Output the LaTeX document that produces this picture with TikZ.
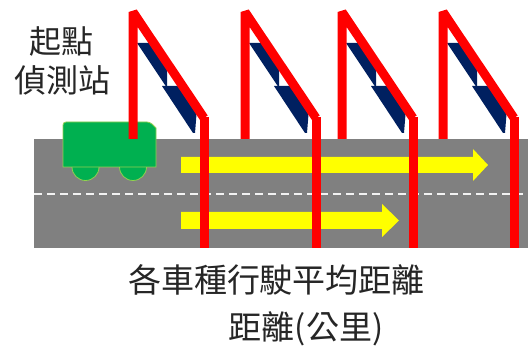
\documentclass[tikz,border=0pt]{standalone}
\usepackage{fontspec}
\newfontfamily\cjk{Noto Sans CJK TC}
\definecolor{roadgray}{RGB}{128,128,128}
\definecolor{vehgreen}{RGB}{0,176,80}
\definecolor{vehedge}{RGB}{146,208,80}
\definecolor{navy}{RGB}{0,32,96}
\definecolor{signyellow}{RGB}{255,255,0}
\definecolor{txt}{RGB}{38,38,38}
\tikzset{
  road/.style={fill=roadgray, draw=none},
  lane/.style={draw=white!90!gray, line width=1.3pt, dash pattern=on 8pt off 5pt},
  flow/.style={fill=signyellow, draw=none},
  vehicle/.style={fill=vehgreen, draw=vehedge, line width=0.8pt},
  panel/.style={fill=navy, draw=none},
  gantry/.style={draw=red, line width=9pt, line join=bevel},
  caption/.style={text=txt, inner sep=0pt, font=\cjk\fontsize{33}{33}\selectfont},
  sidelabel/.style={text=txt, inner sep=0pt, font=\cjk\fontsize{32}{32}\selectfont}
}
\begin{document}
\begin{tikzpicture}[x=1pt,y=-1pt]
\useasboundingbox (0,0) rectangle (528,347);
\fill[white] (0,0) rectangle (528,347);

% road surface and lane divider
\path[road] (34,139) rectangle (528,248);
\draw[lane] (34,194) -- (528,194);

% travel arrows
\path[flow] (181,157) -- (473,157) -- (473,149) -- (488,165) -- (473,181) -- (473,173) -- (181,173) -- cycle;
\path[flow] (181,212) -- (382,212) -- (382,204) -- (399,220.5) -- (382,237) -- (382,229) -- (181,229) -- cycle;

% vehicle: wheels behind the body
\draw[vehicle] (85.5,167) circle[radius=13.5];
\draw[vehicle] (133,167) circle[radius=13.5];
\draw[vehicle, rounded corners=3pt] (63,167) -- (63,122) -- (150,122) [sharp corners] -- (156,128) -- (156,167) -- cycle;

% detector gantries with their panels
\foreach \g in {133,245,342,443} {
  \begin{scope}[xshift=\g pt]
    \path[panel] (4,43) -- (21,43) -- (34,63) -- (34,86) -- (32.7,86) -- cycle;
    \path[panel] (29,86) -- (49,86) -- (64,108) -- (62,133) -- (60,133) -- cycle;
    \draw[gantry] (0,139) -- (0,12) -- (71,118);
    \draw[gantry] (71,117) -- (71,248);
  \end{scope}
}

% labels
\node[sidelabel] (start1) at (62,41) {起點};
\node[sidelabel] (start2) at (62.5,80) {偵測站};
\node[caption] (cap1) at (276.5,280) {各車種行駛平均距離};
\node[caption] (cap2) at (306,329) {距離(公里)};
\end{tikzpicture}
\end{document}
